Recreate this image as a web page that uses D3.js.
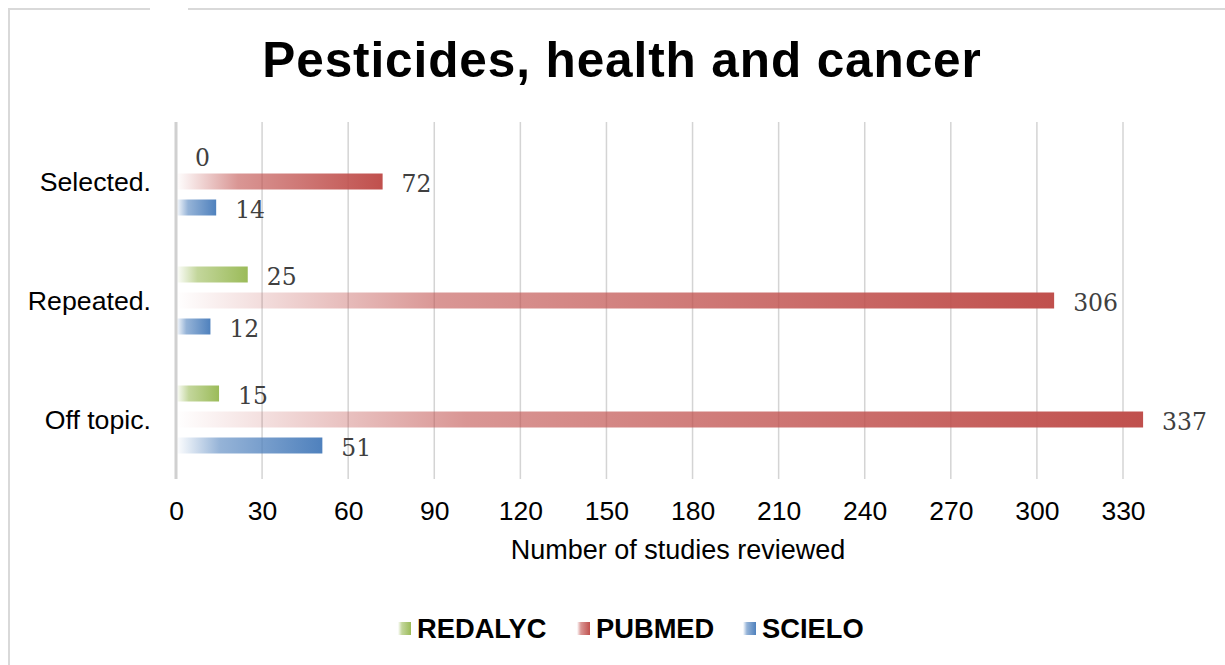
<!DOCTYPE html>
<html>
<head>
<meta charset="utf-8">
<script src="https://cdn.jsdelivr.net/npm/d3@7"></script>
<style>
  html, body { margin: 0; padding: 0; background: #fff; }
  svg { display: block; }
</style>
</head>
<body>
<svg id="chart" width="1225" height="665"></svg>
<script>
const categories = ["Selected.", "Repeated.", "Off topic."];
const seriesNames = ["REDALYC", "PUBMED", "SCIELO"];
const redalyc = [0, 25, 15];
const pubmed = [72, 306, 337];
const scielo = [14, 12, 51];
const seriesColors = ["#9BBB59", "#C0504D", "#4F81BD"];
const xTicks = [0, 30, 60, 90, 120, 150, 180, 210, 240, 270, 300, 330];
const titleText = "Pesticides, health and cancer";
const xAxisTitle = "Number of studies reviewed";

const seriesValues = [redalyc, pubmed, scielo];

const svg = d3.select("#chart");
const W = 1225, H = 665;

// frame
svg.append("rect").attr("x", 0).attr("y", 0).attr("width", W).attr("height", H).attr("fill", "#fff");
svg.append("path")
  .attr("d", "M9,665 L9,9 L150,9 M188,9 L1225,9")
  .attr("fill", "none").attr("stroke", "#d9d9d9").attr("stroke-width", 2);

// gradients
const defs = svg.append("defs");
seriesColors.forEach((c, i) => {
  const g = defs.append("linearGradient").attr("id", "grad" + i)
    .attr("x1", "0%").attr("x2", "100%").attr("y1", "0%").attr("y2", "0%");
  g.append("stop").attr("offset", "0%").attr("stop-color", c).attr("stop-opacity", 0);
  g.append("stop").attr("offset", "30%").attr("stop-color", c).attr("stop-opacity", 0.6);
  g.append("stop").attr("offset", "100%").attr("stop-color", c).attr("stop-opacity", 1);
});

const x = d3.scaleLinear().domain([0, 330]).range([176, 1123]);
const y = d3.scaleBand().domain(categories).range([122, 479]).paddingInner(0).paddingOuter(0);
const ySub = d3.scaleBand().domain(seriesNames).range([-39, 39]).paddingInner(0.385).paddingOuter(0.1925);

// title
svg.append("text").attr("x", 622).attr("y", 77).attr("text-anchor", "middle")
  .attr("font-family", "Liberation Sans, Arial, sans-serif").attr("font-weight", "bold")
  .attr("font-size", 49.5).attr("letter-spacing", 0.9).attr("fill", "#000").text(titleText);

// gridlines
svg.append("g").selectAll("line").data(xTicks.filter(d => d > 0)).join("line")
  .attr("x1", d => x(d)).attr("x2", d => x(d)).attr("y1", 122).attr("y2", 479)
  .attr("stroke", "#d4d4d4").attr("stroke-width", 1.5);

// x axis tick labels
const xAxis = d3.axisBottom(x).tickValues(xTicks).tickSize(0).tickPadding(0);
const gx = svg.append("g").attr("transform", "translate(0,501)").call(xAxis);
gx.select(".domain").remove();
gx.selectAll("text").attr("font-family", "Liberation Sans, Arial, sans-serif")
  .attr("font-size", 26.5).attr("fill", "#000").attr("dy", "0.71em");

// y axis labels
const yAxis = d3.axisLeft(y).tickSize(0).tickPadding(0);
const gy = svg.append("g").attr("transform", "translate(151,0)").call(yAxis);
gy.select(".domain").remove();
gy.selectAll("text").attr("font-family", "Liberation Sans, Arial, sans-serif")
  .attr("font-size", 26.7).attr("fill", "#000").attr("dy", "0.36em");

// bars
seriesNames.forEach((s, si) => {
  const g = svg.append("g");
  g.selectAll("rect").data(categories).join("rect")
    .attr("x", x(0))
    .attr("y", (c) => y(c) + y.bandwidth() / 2 + ySub(s))
    .attr("width", (c, ci) => Math.max(0, x(seriesValues[si][ci]) - x(0)))
    .attr("height", ySub.bandwidth())
    .attr("fill", "url(#grad" + si + ")");
  g.selectAll("text").data(categories).join("text")
    .attr("x", (c, ci) => x(seriesValues[si][ci]) + 19)
    .attr("y", (c) => y(c) + y.bandwidth() / 2 + ySub(s) + ySub.bandwidth() / 2 + 10)
    .attr("font-family", "DejaVu Serif, serif").attr("font-size", 23.5).attr("fill", "#404040")
    .text((c, ci) => seriesValues[si][ci]);
});

// vertical axis line
svg.append("line").attr("x1", x(0)).attr("x2", x(0)).attr("y1", 122).attr("y2", 479)
  .attr("stroke", "#d0d0d0").attr("stroke-width", 3);

// x axis title
svg.append("text").attr("x", 678).attr("y", 559).attr("text-anchor", "middle")
  .attr("font-family", "Liberation Sans, Arial, sans-serif").attr("font-size", 27)
  .attr("fill", "#000").text(xAxisTitle);

// legend
const legendX = [398, 577, 743];
const lg = svg.append("g");
seriesNames.forEach((s, si) => {
  lg.append("rect").attr("x", legendX[si]).attr("y", 622).attr("width", 13).attr("height", 13)
    .attr("fill", "url(#grad" + si + ")");
  lg.append("text").attr("x", legendX[si] + 19).attr("y", 638)
    .attr("font-family", "Liberation Sans, Arial, sans-serif").attr("font-weight", "bold")
    .attr("font-size", 27.3).attr("fill", "#000").text(s);
});
</script>
</body>
</html>
